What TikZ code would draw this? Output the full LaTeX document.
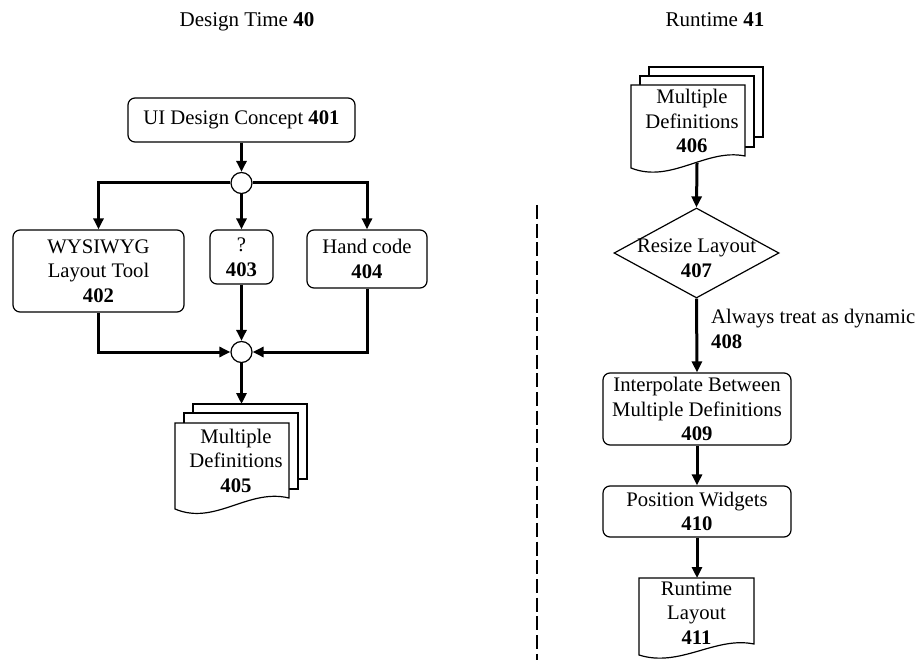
\documentclass[tikz,border=0pt]{standalone}
\usepackage{fontspec}
\setmainfont{Liberation Serif}
\usetikzlibrary{arrows.meta,shapes.geometric}
\begin{document}
\begin{tikzpicture}[x=1pt,y=-1pt,
  every node/.style={font=\fontsize{20.7}{24.5}\selectfont},
  proc/.style={draw, line width=1.2pt, rounded corners=7pt, align=center, inner sep=0pt},
  conn/.style={line width=3pt, -{Triangle[length=11pt,width=10pt]}},
  junc/.style={circle, draw, line width=1.2pt, minimum size=21pt, inner sep=0pt, fill=white},
  page/.style={draw, line width=1.2pt, fill=white},
  ttl/.style={font=\fontsize{21}{25}\selectfont, anchor=base, inner sep=0pt},
  doctext/.style={align=center, inner sep=0pt}]
\useasboundingbox (0,0) rectangle (917,660);

% titles
\node[ttl] (title40) at (247,27) {Design Time \textbf{40}};
\node[ttl] (title41) at (715,27) {Runtime \textbf{41}};

% separator
\draw[line width=2.7pt, dash pattern=on 14pt off 4.7pt] (537,205) -- (537,660);

% ---------- design time ----------
\node[proc, minimum width=227pt, minimum height=44pt] (b401) at (241.5,120) {UI Design Concept \textbf{401}};
\node[junc] (c1) at (241.5,183) {};
\node[proc, minimum width=171pt, minimum height=82pt] (b402) at (98.5,271) {WYSIWYG\\Layout Tool\\\textbf{402}};
\node[proc, minimum width=63pt, minimum height=54pt] (b403) at (241.5,257) {?\\\textbf{403}};
\node[proc, minimum width=120pt, minimum height=58pt] (b404) at (367,259) {Hand code\\\textbf{404}};
\node[junc] (c2) at (241.5,352) {};

% document stack 405
\draw[page] (193,404) rectangle (307,479);
\draw[page] (184,413) rectangle (298,489);
\draw[page] (175,423) -- (289,423) -- (289,498) .. controls (248,488) and (215,526) .. (175,509) -- cycle;
\node[doctext] (t405) at (236,460.5) {Multiple\\Definitions\\\textbf{405}};
\coordinate (d405t) at (241.5,404);

\draw[conn] (b401.south) -- (c1.north);
\draw[conn] (c1.west) -| (b402.north);
\draw[conn] (c1.south) -- (b403.north);
\draw[conn] (c1.east) -| (b404.north);
\draw[conn] (b402.south) |- (c2.west);
\draw[conn] (b403.south) -- (c2.north);
\draw[conn] (b404.south) |- (c2.east);
\draw[conn] (c2.south) -- (d405t);

% ---------- runtime ----------
\draw[page] (649,67) rectangle (763,137);
\draw[page] (640,76) rectangle (754,147);
\draw[page] (631,85) -- (745,85) -- (745,156) .. controls (706,148) and (671,184) .. (631,168) -- cycle;
\node[doctext] (t406) at (692,121) {Multiple\\Definitions\\\textbf{406}};
\coordinate (d406b) at (697,163);

\node[diamond, draw, line width=1.2pt, minimum width=165pt, minimum height=90pt, inner sep=0pt] (d407) at (696.5,253) {};
\node[doctext] (t407) at (696.5,258) {Resize Layout\\\textbf{407}};

\node[proc, minimum width=188pt, minimum height=72pt] (b409) at (697,409) {Interpolate Between\\Multiple Definitions\\\textbf{409}};
\node[proc, minimum width=188pt, minimum height=51pt] (b410) at (697,511.5) {Position Widgets\\\textbf{410}};

\draw[page] (639,578) -- (754,578) -- (754,644) .. controls (715,636) and (680,668) .. (639,655) -- cycle;
\node[doctext] (t411) at (696.5,613) {Runtime\\Layout\\\textbf{411}};
\coordinate (d411t) at (697,578);

\node[anchor=north west, align=left, inner sep=0pt] (l408) at (711,309) {Always treat as dynamic\\\textbf{408}};

\draw[conn] (d406b) -- (d407.north);
\draw[conn] (d407.south) -- (b409.north);
\draw[conn] (b409.south) -- (b410.north);
\draw[conn] (b410.south) -- (d411t);
\end{tikzpicture}
\end{document}
